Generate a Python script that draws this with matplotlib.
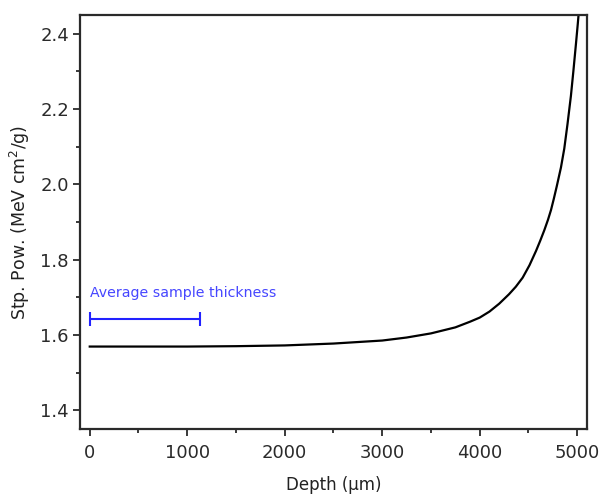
import matplotlib
matplotlib.use("Agg")
import matplotlib.pyplot as plt
from matplotlib.ticker import MultipleLocator, FormatStrFormatter

plt.rcParams['font.family'] = ['DejaVu Sans']

depth = [0, 1000, 1500, 2000, 2500, 3000, 3250, 3500, 3750, 3900, 4000, 4100,
         4200, 4300, 4370, 4440, 4510, 4577, 4620, 4662, 4700, 4731, 4760, 4790,
         4833, 4867, 4900, 4935, 4960, 4987, 5005, 5020]
stp_pow = [1.569, 1.569, 1.570, 1.572, 1.577, 1.585, 1.593, 1.604, 1.620, 1.635,
           1.646, 1.662, 1.683, 1.708, 1.728, 1.752, 1.785, 1.823, 1.850, 1.878,
           1.906, 1.932, 1.962, 1.995, 2.045, 2.095, 2.160, 2.235, 2.300, 2.374,
           2.425, 2.470]

thickness = 1130
bar_y = 1.642
bar_label = "Average sample thickness"

fig = plt.figure(figsize=(6.01, 4.98), dpi=100)
ax = fig.add_axes([0.1331, 0.1386, 0.8436, 0.8313])

ax.plot(depth, stp_pow, color='black', lw=1.6, solid_joinstyle='round')
ax.errorbar([thickness / 2], [bar_y], xerr=[thickness / 2], color='#2222ff',
            lw=1.5, capsize=5, capthick=1.5, fmt='none')
ax.text(0, 1.692, bar_label, color='#4646ff', fontsize=10.2, ha='left', va='bottom')

ax.set_xlim(-100, 5100)
ax.set_ylim(1.35, 2.45)
ax.xaxis.set_major_locator(MultipleLocator(1000))
ax.xaxis.set_minor_locator(MultipleLocator(500))
ax.yaxis.set_major_locator(MultipleLocator(0.2))
ax.yaxis.set_minor_locator(MultipleLocator(0.1))
ax.yaxis.set_major_formatter(FormatStrFormatter('%.1f'))

for s in ax.spines.values():
    s.set_linewidth(1.6)
    s.set_color('#2a2a2a')
ax.tick_params(which='major', direction='out', length=5, width=1.3, labelsize=13,
               colors='#2a2a2a')
ax.tick_params(axis='x', which='major', pad=6)
ax.tick_params(axis='y', which='major', pad=3)
ax.tick_params(which='minor', direction='out', length=3, width=1.3, colors='#2a2a2a')
ax.tick_params(top=False, right=False, which='both')

ax.set_xlabel("Depth (µm)", fontsize=12, labelpad=10, color='#222222')
ax.set_ylabel("Stp. Pow. (MeV cm$^2$/g)", fontsize=12.5, labelpad=6, color='#222222')

fig.savefig("out.png", dpi=100)
